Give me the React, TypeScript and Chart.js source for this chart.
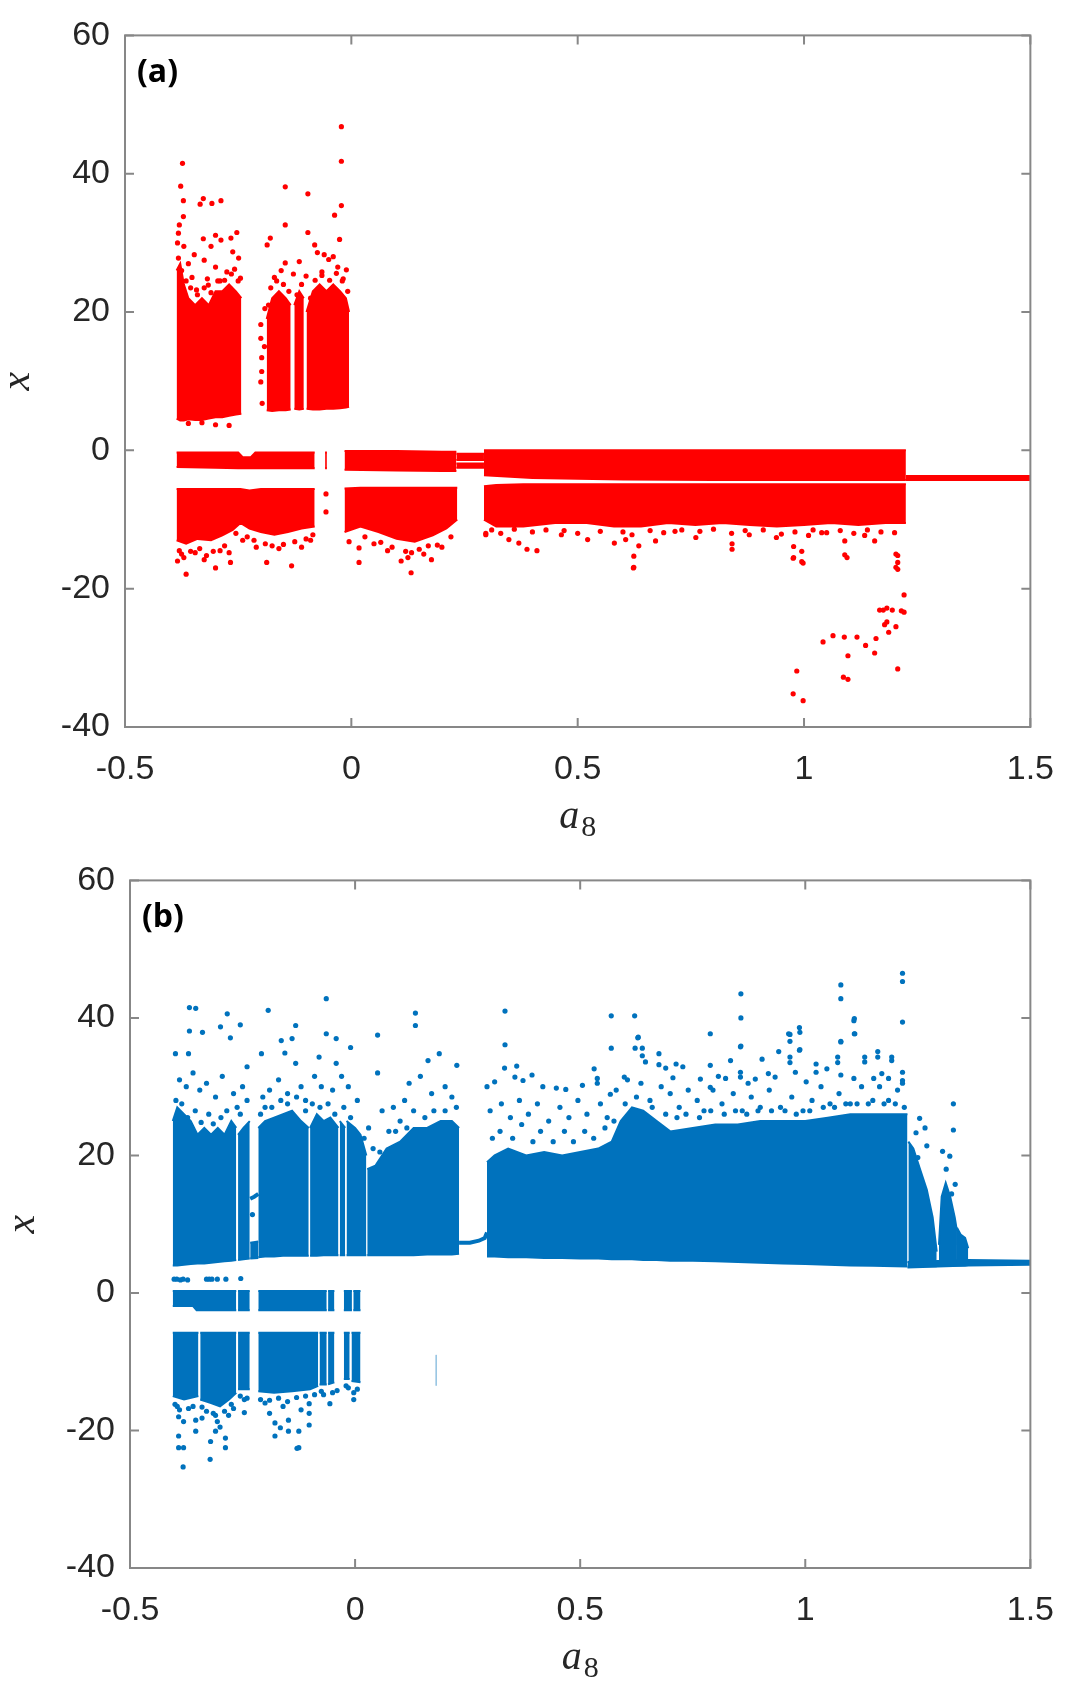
import React, { useEffect, useRef } from 'react';
import { Chart, registerables } from 'chart.js';

Chart.register(...registerables);

type Band = [number, number, number][]; // [a8, upper x, lower x]
type Pts = [number, number][]; // [a8, x]

// ---------- axes ----------
const xTicks = [-0.5, 0, 0.5, 1, 1.5];
const yTicks = [-40, -20, 0, 20, 40, 60];

// ---------- panel (a): red ----------
const redPosA: Band = [[-0.386, 26, 4.6], [-0.378, 27, 4.3], [-0.37, 24, 4.3], [-0.36, 22, 4.5], [-0.345, 21, 4.4], [-0.33, 22, 4.4], [-0.315, 21, 4.6], [-0.3, 23, 4.8], [-0.285, 23, 4.8], [-0.27, 24, 5.0], [-0.255, 23, 5.2], [-0.243, 22, 5.3]];
const redPosB1: Band = [[-0.187, 19, 5.8], [-0.175, 22, 5.7], [-0.16, 23, 5.8], [-0.145, 22, 5.8], [-0.134, 21, 5.9]];
const redPosB2: Band = [[-0.126, 21, 6.0], [-0.115, 23, 5.9], [-0.105, 22, 6.0]];
const redPosB3: Band = [[-0.099, 20, 6.0], [-0.085, 23, 5.9], [-0.07, 24, 5.9], [-0.055, 23, 6.0], [-0.04, 24, 6.0], [-0.025, 23, 6.1], [-0.012, 22, 6.2], [-0.005, 20, 6.3]];
const redZero1: Band = [[-0.386, -0.3, -2.4], [-0.3, -0.3, -2.5], [-0.25, -0.3, -2.6], [-0.24, -1.0, -2.6], [-0.222, -1.0, -2.6], [-0.212, -0.3, -2.6], [-0.15, -0.3, -2.6], [-0.081, -0.3, -2.6]];
const redZero2: Band = [[-0.058, -0.3, -2.6], [-0.054, -0.3, -2.6]];
const redZero3: Band = [[-0.015, -0.1, -2.8], [0.1, -0.1, -2.9], [0.2, -0.2, -3.0], [0.232, -0.2, -3.0]];
const redZero4: Band = [[0.232, -0.5, -1.4], [0.293, -0.5, -1.4]];
const redZero5: Band = [[0.232, -1.9, -2.5], [0.293, -1.9, -2.5]];
const redZero6: Band = [[0.293, 0.0, -3.6], [0.4, 0.0, -4.0], [0.6, 0.0, -4.2], [0.8, 0.0, -4.3], [1.0, 0.0, -4.3], [1.225, 0.0, -4.3]];
const redTail: Band = [[1.225, -3.7, -4.3], [1.5, -3.7, -4.3]];
const redNeg1: Band = [[-0.386, -5.6, -13.0], [-0.365, -5.6, -13.5], [-0.34, -5.6, -12.8], [-0.31, -5.6, -13.0], [-0.285, -5.6, -12.3], [-0.262, -5.6, -11.5], [-0.245, -5.6, -10.5], [-0.225, -5.8, -11.3], [-0.2, -5.6, -11.8], [-0.17, -5.6, -12.2], [-0.14, -5.6, -11.8], [-0.11, -5.6, -11.3], [-0.081, -5.6, -11.0]];
const redNeg2: Band = [[-0.015, -5.5, -11.8], [0.02, -5.4, -11.0], [0.06, -5.4, -11.8], [0.1, -5.4, -12.8], [0.14, -5.4, -13.2], [0.18, -5.4, -12.3], [0.21, -5.4, -11.3], [0.234, -5.4, -10.0]];
const redNeg3: Band = [[0.293, -5.2, -10.0], [0.32, -5.0, -11.0], [0.38, -4.9, -11.0], [0.45, -4.9, -10.5], [0.52, -4.9, -10.5], [0.58, -4.9, -11.0], [0.64, -4.9, -11.0], [0.7, -4.9, -10.5], [0.76, -4.9, -10.8], [0.82, -4.9, -10.5], [0.88, -4.9, -10.8], [0.94, -4.9, -11.0], [1.0, -4.9, -10.8], [1.06, -4.9, -10.5], [1.12, -4.9, -10.8], [1.18, -4.9, -10.5], [1.225, -4.9, -10.5]];

const redScatterTop: Pts = [
  [-0.373, 41.5], [-0.377, 38.2], [-0.371, 36.1], [-0.371, 33.8], [-0.327, 36.4], [-0.334, 35.6], [-0.308, 35.7], [-0.288, 36.1], [-0.38, 32.6], [-0.382, 31.4], [-0.327, 30.6], [-0.3, 31.1], [-0.288, 30.4], [-0.266, 30.7], [-0.253, 31.5], [-0.31, 29.5], [-0.347, 28.3], [-0.325, 27.5], [-0.249, 27.8], [-0.36, 27.0], [-0.3, 26.5], [-0.275, 25.8], [-0.258, 26.2], [-0.352, 25.0], [-0.318, 24.8], [-0.29, 24.5], [-0.245, 24.9], [-0.37, 29.5], [-0.384, 30.0], [-0.262, 28.7], [-0.316, 23.9], [-0.342, 23.2], [-0.33, 4.0], [-0.3, 3.7], [-0.36, 3.9], [-0.27, 3.6],
  [-0.382, 27.8], [-0.375, 26.0], [-0.365, 24.5], [-0.355, 23.5], [-0.34, 22.5], [-0.325, 23.5], [-0.31, 22.8], [-0.295, 24.5], [-0.28, 24.6], [-0.265, 25.5], [-0.25, 24.5],
  [-0.146, 38.1], [-0.146, 32.6], [-0.096, 37.1], [-0.096, 31.5], [-0.022, 46.8], [-0.022, 41.8], [-0.022, 35.4], [-0.037, 34.0], [-0.026, 30.5], [-0.179, 30.7], [-0.186, 29.7], [-0.081, 29.7], [-0.075, 28.6], [-0.06, 28.3], [-0.05, 27.6], [-0.04, 28.0], [-0.011, 26.1], [-0.146, 27.1], [-0.115, 27.3], [-0.128, 25.5], [-0.17, 25.0], [-0.155, 26.0], [-0.1, 25.2], [-0.065, 25.8], [-0.03, 26.5], [-0.018, 24.8], [-0.2, 18.2], [-0.2, 16.2], [-0.198, 13.4], [-0.198, 11.4], [-0.2, 9.9], [-0.197, 6.8], [-0.192, 15.0], [-0.191, 20.5],
  [-0.183, 21.0], [-0.178, 23.5], [-0.165, 24.5], [-0.15, 24.0], [-0.138, 23.0], [-0.12, 22.5], [-0.11, 24.0], [-0.09, 22.0], [-0.08, 24.6], [-0.065, 25.3], [-0.048, 24.6], [-0.033, 25.6], [-0.02, 24.5], [-0.008, 23.0],
];

const redScatterLow: Pts = [
  [-0.384, -16.0], [-0.365, -17.9], [-0.3, -17.0], [-0.267, -16.2], [-0.187, -16.2], [-0.132, -16.7], [0.017, -16.2], [0.132, -17.7], [0.177, -15.8], [0.133, -14.8], [-0.056, -6.3], [-0.056, -8.9], [0.017, -14.1], [0.297, -12.0], [-0.375, -15.0], [-0.345, -14.8], [-0.32, -15.2], [-0.29, -14.5], [-0.24, -13.0], [-0.21, -14.0], [-0.16, -14.2], [-0.11, -14.0], [-0.09, -13.0], [0.05, -13.5], [0.08, -14.5], [0.16, -15.0], [0.2, -14.0],
  [-0.38, -14.5], [-0.37, -15.5], [-0.355, -14.6], [-0.335, -14.2], [-0.325, -15.8], [-0.305, -14.6], [-0.28, -13.8], [-0.27, -14.8], [-0.255, -12.0], [-0.23, -12.5], [-0.215, -13.0], [-0.19, -13.5], [-0.175, -13.8], [-0.15, -13.6], [-0.125, -13.2], [-0.1, -12.8], [-0.085, -12.2], [-0.005, -13.2], [0.03, -12.5], [0.065, -13.3], [0.09, -14.0], [0.12, -14.6], [0.15, -14.3], [0.17, -13.8], [0.19, -13.7], [0.22, -12.5], [0.11, -16.0], [0.125, -15.5],
  [0.297, -12.2], [0.348, -12.9], [0.388, -14.3], [0.41, -14.5], [0.37, -13.4], [0.464, -12.2], [0.522, -12.9], [0.581, -13.4], [0.606, -12.9], [0.624, -15.3], [0.624, -16.9], [0.635, -13.8], [0.672, -13.1], [0.715, -11.7], [0.761, -12.6], [0.841, -13.5], [0.841, -14.3], [0.879, -12.2], [0.939, -12.6], [0.977, -13.9], [0.977, -15.5], [0.995, -14.6], [0.995, -16.1], [1.01, -12.3], [1.039, -11.9], [1.09, -13.1], [1.09, -15.1], [1.134, -12.3], [1.156, -13.1], [1.203, -15.0], [1.203, -16.9],
  [0.31, -11.5], [0.33, -12.0], [0.36, -11.4], [0.4, -11.8], [0.43, -11.5], [0.47, -11.6], [0.5, -12.0], [0.55, -11.7], [0.6, -11.8], [0.62, -12.2], [0.66, -11.6], [0.69, -11.9], [0.73, -11.5], [0.77, -11.7], [0.8, -11.4], [0.84, -12.0], [0.87, -11.6], [0.91, -11.5], [0.95, -12.1], [0.98, -11.8], [1.02, -11.5], [1.05, -11.9], [1.08, -11.6], [1.11, -12.0], [1.14, -11.5], [1.17, -11.8], [1.2, -11.9],
  [0.623, -17.0], [0.976, -15.6], [0.998, -16.3], [1.095, -15.5], [1.207, -15.2], [1.207, -16.2], [1.207, -17.2],
  [0.984, -31.9], [0.976, -35.2], [0.998, -36.2], [1.042, -27.7], [1.064, -26.8], [1.089, -27.0], [1.097, -29.7], [1.087, -32.8], [1.097, -33.1], [1.117, -27.0], [1.136, -28.2], [1.159, -27.2], [1.156, -29.3], [1.167, -23.1], [1.175, -23.1], [1.183, -22.8], [1.195, -23.1], [1.183, -24.8], [1.187, -26.3], [1.203, -25.5], [1.221, -23.4], [1.221, -20.9], [1.207, -31.6], [1.215, -23.2], [1.178, -25.2],
];

// ---------- panel (b): blue ----------
const bluePosA1: Band = [[-0.405, 25, 4.0], [-0.395, 27, 4.0], [-0.38, 26, 4.1], [-0.365, 25, 4.2], [-0.35, 23, 4.3], [-0.335, 24, 4.3], [-0.32, 23, 4.4], [-0.305, 24, 4.5], [-0.29, 23, 4.6], [-0.275, 25, 4.7], [-0.264, 24, 4.8]];
const bluePosA2: Band = [[-0.26, 23, 4.8], [-0.248, 24, 4.9], [-0.234, 25, 5.0]];
const blueIslandFloor: Band = [[-0.233, 7.3, 5.0], [-0.215, 7.5, 5.1]];
const blueIslandLine: Pts = [[-0.233, 13.7], [-0.224, 14.0], [-0.215, 14.4]];
const bluePosB1: Band = [[-0.215, 24, 5.2], [-0.2, 25, 5.3], [-0.18, 25.5, 5.3], [-0.16, 26, 5.4], [-0.14, 26.5, 5.4], [-0.12, 25, 5.4], [-0.103, 24, 5.4]];
const bluePosB2: Band = [[-0.1, 24, 5.4], [-0.085, 26, 5.4], [-0.07, 25, 5.5], [-0.055, 25.5, 5.5], [-0.037, 24, 5.5]];
const bluePosB3: Band = [[-0.034, 25, 5.5], [-0.022, 24, 5.5]];
const bluePosB4: Band = [[-0.019, 25, 5.5], [0.0, 24, 5.5], [0.012, 23, 5.5], [0.025, 20, 5.5]];
const bluePosB5: Band = [[0.027, 18, 5.5], [0.045, 18.5, 5.5], [0.07, 21, 5.5], [0.1, 22, 5.5], [0.13, 24, 5.5], [0.16, 24, 5.6], [0.19, 25, 5.6], [0.215, 25, 5.6], [0.231, 24, 5.7]];
const blueGapLine: Pts = [[0.231, 7.3], [0.255, 7.3], [0.275, 7.6], [0.288, 8.0], [0.293, 8.8]];
const bluePosC: Band = [[0.293, 19, 5.3], [0.31, 20, 5.3], [0.34, 21, 5.2], [0.38, 20, 5.2], [0.42, 20.5, 5.1], [0.46, 20, 5.1], [0.5, 20.5, 5.0], [0.54, 21, 5.0], [0.57, 22, 4.9], [0.59, 25, 4.9], [0.615, 27, 4.9], [0.64, 26.5, 4.8], [0.67, 25, 4.8], [0.7, 23.5, 4.7], [0.75, 24, 4.7], [0.8, 24.5, 4.6], [0.85, 24.5, 4.5], [0.9, 25, 4.4], [0.95, 25, 4.3], [1.0, 25, 4.2], [1.05, 25.5, 4.1], [1.1, 26, 4.0], [1.15, 26, 3.95], [1.2, 26, 3.9], [1.227, 26, 3.85]];
const bluePosD1: Band = [[1.229, 22, 3.85], [1.24, 21, 3.85], [1.255, 18, 3.9], [1.27, 15, 3.9], [1.283, 11, 3.9], [1.292, 6, 3.9]];
const bluePosD2: Band = [[1.297, 7, 4.0], [1.303, 14, 4.0], [1.312, 16, 4.0], [1.322, 14, 4.0], [1.332, 11, 4.0], [1.337, 9, 4.0]];
const bluePosD3: Band = [[1.337, 9.5, 4.0], [1.345, 8.5, 4.0], [1.355, 8, 4.0], [1.362, 6.5, 4.05]];
const blueTail: Band = [[1.227, 4.5, 3.7], [1.362, 4.8, 4.0], [1.5, 4.7, 4.1]];
const blueZero1: Band = [[-0.405, 0.3, -1.9], [-0.36, 0.3, -1.9], [-0.352, 0.3, -2.5], [-0.3, 0.3, -2.5], [-0.264, 0.3, -2.5]];
const blueZero2: Band = [[-0.26, 0.3, -2.5], [-0.234, 0.3, -2.5]];
const blueZero3: Band = [[-0.215, 0.3, -2.5], [-0.063, 0.3, -2.5]];
const blueZero4: Band = [[-0.06, 0.3, -2.5], [-0.046, 0.3, -2.5]];
const blueZero5: Band = [[-0.025, 0.3, -2.5], [-0.007, 0.3, -2.5]];
const blueZero6: Band = [[-0.004, 0.3, -2.5], [0.012, 0.3, -2.5]];
const blueNeg1: Band = [[-0.405, -5.8, -15.0], [-0.38, -5.8, -15.5], [-0.348, -5.8, -15.0]];
const blueNeg1b: Band = [[-0.344, -5.8, -15.5], [-0.32, -5.8, -16.0], [-0.3, -5.8, -16.5], [-0.28, -5.8, -15.5], [-0.264, -5.8, -14.5]];
const blueNeg2: Band = [[-0.26, -5.8, -14.0], [-0.234, -5.8, -14.0]];
const blueNeg3: Band = [[-0.215, -5.8, -14.3], [-0.18, -5.8, -14.5], [-0.14, -5.8, -14.3], [-0.1, -5.8, -14.0], [-0.082, -5.8, -13.5]];
const blueNeg3b: Band = [[-0.079, -5.8, -13.3], [-0.063, -5.8, -13.3]];
const blueNeg4: Band = [[-0.06, -5.8, -13.3], [-0.046, -5.8, -13.0]];
const blueNeg5: Band = [[-0.025, -5.8, -12.5], [-0.012, -5.8, -12.5]];
const blueNeg6: Band = [[-0.008, -5.8, -12.8], [0.012, -5.8, -13.0]];
const blueFaint: Pts = [[0.18, -9.0], [0.18, -13.5]];

const blueScatterLeft: Pts = [
  [-0.368, 41.5], [-0.354, 41.4], [-0.284, 40.6], [-0.193, 41.1], [-0.064, 42.8], [0.134, 40.7], [0.134, 38.9], [-0.299, 38.7], [-0.255, 39.0], [-0.368, 38.1], [-0.339, 37.9], [-0.277, 37.1], [-0.164, 36.7], [-0.14, 37.0], [-0.132, 38.9], [-0.064, 37.7], [-0.042, 37.0], [0.05, 37.5], [-0.399, 34.8], [-0.37, 34.8], [-0.208, 34.8], [-0.156, 34.9], [-0.08, 34.3], [-0.01, 35.7], [0.187, 34.8], [0.226, 33.1], [0.162, 33.8], [0.05, 32.0], [-0.042, 33.4], [-0.132, 33.4], [-0.24, 32.9],
  [-0.39, 31.0], [-0.375, 30.0], [-0.36, 32.0], [-0.345, 29.5], [-0.33, 30.5], [-0.31, 28.5], [-0.295, 31.5], [-0.27, 29.0], [-0.25, 30.0], [-0.24, 28.0], [-0.205, 28.5], [-0.19, 29.5], [-0.17, 31.0], [-0.15, 29.0], [-0.12, 30.0], [-0.11, 28.0], [-0.09, 31.5], [-0.075, 30.0], [-0.05, 29.5], [-0.03, 31.5], [-0.015, 30.0], [0.005, 28.0], [0.03, 24.0], [0.06, 26.5], [0.085, 27.0], [0.11, 28.0], [0.12, 30.5], [0.145, 31.5], [0.17, 29.0], [0.2, 30.0], [0.215, 28.5],
  [-0.398, 28.0], [-0.385, 27.5], [-0.355, 26.5], [-0.325, 26.0], [-0.285, 26.5], [-0.262, 27.0], [-0.2, 27.0], [-0.165, 28.0], [-0.13, 28.5], [-0.095, 27.5], [-0.06, 27.5], [-0.025, 27.0], [0.04, 21.0], [0.075, 23.5], [0.1, 25.0], [0.13, 26.5], [0.175, 26.5], [0.225, 27.0],
  [-0.372, 25.5], [-0.342, 24.8], [-0.315, 24.6], [-0.298, 25.5], [-0.255, 26.0], [-0.21, 26.0], [-0.185, 27.0], [-0.15, 27.5], [-0.11, 26.5], [-0.078, 27.0], [-0.045, 26.0], [-0.01, 25.5], [0.02, 22.5], [0.055, 20.5], [0.09, 23.5], [0.115, 24.0], [0.155, 25.5], [0.2, 26.5],
  [-0.402, 2.0], [-0.396, 2.0], [-0.388, 1.9], [-0.382, 2.0], [-0.372, 1.9], [-0.33, 2.0], [-0.324, 2.0], [-0.318, 2.0], [-0.306, 2.0], [-0.287, 2.0], [-0.254, 2.1], [-0.228, 11.4],
];

const blueScatterRight: Pts = [
  [0.333, 41.0], [0.333, 36.1], [0.569, 40.3], [0.621, 40.3], [0.629, 37.2], [0.569, 35.6], [0.789, 37.7], [0.857, 43.5], [0.857, 40.0], [0.857, 35.9], [0.963, 37.7], [0.987, 38.6], [0.987, 35.3], [1.079, 44.8], [1.079, 42.8], [1.079, 36.5], [1.109, 39.9], [1.109, 37.7], [1.216, 46.5], [1.216, 45.3], [1.216, 39.4], [1.329, 27.5], [1.329, 23.7],
  [0.293, 30.0], [0.31, 30.7], [0.332, 32.7], [0.359, 33.0], [0.355, 31.4], [0.373, 30.9], [0.393, 31.7], [0.417, 30.0], [0.447, 29.8], [0.468, 29.6], [0.505, 30.2], [0.531, 32.6], [0.538, 31.2], [0.538, 30.5], [0.567, 28.9], [0.598, 31.4], [0.628, 37.1], [0.622, 35.6], [0.638, 35.6], [0.638, 34.5], [0.645, 33.6], [0.675, 34.8], [0.675, 33.2], [0.69, 32.7], [0.713, 33.3], [0.728, 32.9], [0.706, 31.3], [0.789, 33.1], [0.767, 31.1], [0.789, 29.9], [0.807, 31.5], [0.823, 31.2], [0.834, 33.8], [0.856, 35.8], [0.856, 32.1], [0.856, 31.4], [0.873, 30.5], [0.889, 31.1], [0.904, 34.0], [0.918, 31.9], [0.933, 31.4], [0.941, 35.1], [0.966, 37.6], [0.966, 36.6], [0.966, 34.3], [0.966, 33.5], [0.988, 37.9], [0.988, 35.4], [0.978, 32.1], [1.002, 30.7], [1.024, 33.3], [1.024, 32.1], [1.048, 32.6], [1.079, 36.6], [1.072, 34.3], [1.072, 33.5], [1.079, 31.7], [1.108, 39.6], [1.11, 37.7], [1.108, 31.2], [1.132, 34.3], [1.132, 33.6], [1.161, 35.1], [1.161, 34.3], [1.17, 31.9], [1.192, 34.3], [1.192, 33.8], [1.216, 32.1], [1.216, 30.9], [1.216, 30.5], [1.185, 31.2], [1.152, 31.2],
  [0.3, 26.5], [0.325, 27.5], [0.345, 25.5], [0.365, 28.0], [0.385, 26.0], [0.405, 27.5], [0.43, 25.0], [0.455, 27.0], [0.475, 25.5], [0.495, 28.0], [0.515, 26.0], [0.545, 27.5], [0.56, 25.5], [0.58, 29.5], [0.605, 31.0], [0.635, 30.5], [0.655, 28.0], [0.68, 30.0], [0.7, 29.0], [0.72, 27.0], [0.74, 29.5], [0.76, 28.0], [0.775, 26.5], [0.795, 29.5], [0.815, 27.5], [0.84, 29.0], [0.86, 26.5], [0.88, 28.5], [0.9, 27.0], [0.92, 29.5], [0.945, 27.0], [0.97, 28.5], [0.995, 26.5], [1.015, 28.0], [1.035, 30.0], [1.055, 27.5], [1.075, 29.0], [1.1, 27.5], [1.125, 30.0], [1.15, 28.0], [1.165, 30.0], [1.185, 28.0], [1.205, 29.5], [1.22, 27.0],
  [0.305, 22.5], [0.322, 23.5], [0.35, 22.5], [0.37, 24.5], [0.395, 22.0], [0.412, 23.5], [0.44, 22.0], [0.465, 23.5], [0.485, 22.0], [0.51, 23.5], [0.53, 22.5], [0.555, 24.0], [0.575, 25.0], [0.6, 27.5], [0.625, 28.5], [0.66, 27.0], [0.69, 26.0], [0.715, 25.5], [0.735, 26.0], [0.765, 25.5], [0.79, 26.5], [0.82, 26.0], [0.845, 26.5], [0.87, 26.0], [0.895, 26.5], [0.925, 26.5], [0.955, 26.5], [0.98, 26.0], [1.01, 26.5], [1.04, 27.0], [1.065, 27.0], [1.09, 27.5], [1.115, 27.5], [1.14, 27.5], [1.175, 27.5], [1.2, 27.5],
  [1.254, 25.4], [1.266, 24.0], [1.246, 23.3], [1.27, 21.4], [1.25, 19.7], [1.305, 20.6], [1.321, 19.9], [1.313, 18.0], [1.333, 15.8], [1.325, 14.4],
];

const blueScatterLow: Pts = [
  [-0.392, -22.5], [-0.381, -22.5], [-0.392, -20.8], [-0.392, -18.0], [-0.381, -18.7], [-0.354, -20.1], [-0.354, -18.5], [-0.34, -18.2], [-0.321, -21.6], [-0.322, -24.2], [-0.288, -22.5], [-0.288, -21.1], [-0.31, -20.1], [-0.306, -18.7], [-0.281, -17.8], [-0.246, -15.5], [-0.246, -17.4], [-0.178, -20.8], [-0.178, -18.9], [-0.166, -19.6], [-0.148, -18.5], [-0.148, -20.1], [-0.125, -20.1], [-0.125, -22.5], [-0.102, -16.1], [-0.102, -17.5], [-0.102, -19.2], [-0.056, -16.1], [-0.003, -15.5], [-0.003, -14.5], [-0.382, -25.3], [-0.129, -22.6], [-0.3, -19.5], [-0.315, -17.5], [-0.27, -16.8], [-0.36, -16.5], [-0.395, -16.5], [-0.2, -16.0], [-0.16, -16.5], [-0.19, -17.5], [-0.12, -17.0], [-0.07, -14.8], [-0.05, -14.5], [-0.015, -13.8],
  [-0.4, -16.2], [-0.39, -17.0], [-0.37, -16.8], [-0.34, -16.6], [-0.33, -17.2], [-0.31, -17.8], [-0.29, -17.2], [-0.275, -16.2], [-0.255, -15.0], [-0.24, -15.3], [-0.21, -15.5], [-0.19, -15.6], [-0.17, -15.3], [-0.15, -15.8], [-0.13, -15.2], [-0.11, -15.0], [-0.09, -14.8], [-0.075, -14.3], [-0.04, -14.2], [-0.02, -13.5], [0.005, -14.0],
];

const RED = '#ff0000';
const BLUE = '#0072bd';

function bandSets(bands: Band[], color: string) {
  const out: any[] = [];
  for (const b of bands) {
    out.push({
      data: b.map(([a, hi]) => ({ x: a, y: hi })),
      borderColor: color, backgroundColor: color, borderWidth: 2,
      pointRadius: 0, fill: '+1', showLine: true, tension: 0,
    });
    out.push({
      data: b.map(([a, , lo]) => ({ x: a, y: lo })),
      borderColor: color, backgroundColor: color, borderWidth: 2,
      pointRadius: 0, fill: false, showLine: true, tension: 0,
    });
  }
  return out;
}

function lineSet(p: Pts, color: string, width: number) {
  return {
    data: p.map(([a, v]) => ({ x: a, y: v })),
    borderColor: color, backgroundColor: color, borderWidth: width,
    pointRadius: 0, fill: false, showLine: true, tension: 0,
  };
}

function dotSet(p: Pts, color: string) {
  return {
    data: p.map(([a, v]) => ({ x: a, y: v })),
    borderColor: color, backgroundColor: color, borderWidth: 0,
    pointRadius: 2.6, pointHoverRadius: 2.6, showLine: false, fill: false,
  };
}

const TICK_FONT = { family: '"Liberation Sans", Arial, sans-serif', size: 34 };
const TEXT = '#262626';
const FRAME = '#878787';

function makeFramePlugin(letter: string) {
  return {
    id: 'matlabFrame' + letter,
    afterDraw(chart: any) {
      const { ctx, chartArea } = chart;
      const { left, right, top, bottom } = chartArea;
      const xs = chart.scales.x;
      const ys = chart.scales.y;
      ctx.save();
      ctx.strokeStyle = FRAME;
      ctx.lineWidth = 2;
      ctx.strokeRect(left, top, right - left, bottom - top);
      const tl = 9;
      ctx.beginPath();
      for (const v of xTicks) {
        const p = xs.getPixelForValue(v);
        ctx.moveTo(p, bottom); ctx.lineTo(p, bottom - tl);
        ctx.moveTo(p, top); ctx.lineTo(p, top + tl);
      }
      for (const v of yTicks) {
        const p = ys.getPixelForValue(v);
        ctx.moveTo(left, p); ctx.lineTo(left + tl, p);
        ctx.moveTo(right, p); ctx.lineTo(right - tl, p);
      }
      ctx.stroke();

      // panel letter
      ctx.fillStyle = '#000';
      ctx.font = 'bold 32px "Open Sans", "Noto Sans", sans-serif';
      ctx.textAlign = 'left';
      ctx.textBaseline = 'middle';
      ctx.fillText(letter, left + 12, top + 37);

      // x axis title: a_8
      ctx.fillStyle = TEXT;
      const cx = (left + right) / 2;
      const base = bottom + 101;
      ctx.font = 'italic 40px "Liberation Serif", "DejaVu Serif", serif';
      const wa = ctx.measureText('a').width;
      ctx.font = '30px "Liberation Serif", "DejaVu Serif", serif';
      const w8 = ctx.measureText('8').width;
      const start = cx - (wa + w8 + 2) / 2;
      ctx.textBaseline = 'alphabetic';
      ctx.font = 'italic 40px "Liberation Serif", "DejaVu Serif", serif';
      ctx.fillText('a', start, base);
      ctx.font = '30px "Liberation Serif", "DejaVu Serif", serif';
      ctx.fillText('8', start + wa + 2, base + 8);

      // y axis title: x
      ctx.save();
      ctx.translate(left - 96, (top + bottom) / 2);
      ctx.rotate(-Math.PI / 2);
      ctx.font = 'italic 42px "Liberation Serif", "DejaVu Serif", serif';
      ctx.textAlign = 'center';
      ctx.textBaseline = 'alphabetic';
      ctx.fillText('x', 0, 0);
      ctx.restore();
      ctx.restore();
    },
  };
}

function makeConfig(datasets: any[], letter: string, axisLeft: number, axisTop: number, padRight: number, xAxisH: number) {
  return {
    type: 'line' as const,
    data: { datasets },
    options: {
      animation: false,
      responsive: false,
      maintainAspectRatio: false,
      events: [],
      layout: { padding: { left: 0, top: axisTop, right: padRight, bottom: 0 } },
      plugins: { legend: { display: false }, tooltip: { enabled: false } },
      scales: {
        x: {
          type: 'linear',
          min: -0.5, max: 1.5,
          grid: { display: false, drawTicks: false },
          border: { display: false },
          afterBuildTicks: (s: any) => { s.ticks = xTicks.map((v) => ({ value: v })); },
          ticks: { font: TICK_FONT, color: TEXT, padding: 22, maxRotation: 0, autoSkip: false, callback: (v: any) => String(v) },
          afterFit: (s: any) => { s.height = xAxisH; },
        },
        y: {
          type: 'linear',
          min: -40, max: 60,
          grid: { display: false, drawTicks: false },
          border: { display: false },
          afterBuildTicks: (s: any) => { s.ticks = yTicks.map((v) => ({ value: v })); },
          ticks: { font: TICK_FONT, color: TEXT, padding: 15, callback: (v: any) => String(v) },
          afterFit: (s: any) => { s.width = axisLeft; },
        },
      },
    },
    plugins: [makeFramePlugin(letter)],
  };
}

const redDatasets = () => [
  dotSet(redScatterTop, RED),
  dotSet(redScatterLow, RED),
  ...bandSets([redPosA, redPosB1, redPosB2, redPosB3, redZero1, redZero2, redZero3, redZero4, redZero5, redZero6, redTail, redNeg1, redNeg2, redNeg3], RED),
];

const blueDatasets = () => [
  dotSet(blueScatterLeft, BLUE),
  dotSet(blueScatterRight, BLUE),
  dotSet(blueScatterLow, BLUE),
  lineSet(blueIslandLine, BLUE, 4),
  lineSet(blueGapLine, BLUE, 4),
  lineSet(blueFaint, 'rgba(0,114,189,0.25)', 1),
  ...bandSets([bluePosA1, bluePosA2, blueIslandFloor, bluePosB1, bluePosB2, bluePosB3, bluePosB4, bluePosB5, bluePosC, bluePosD1, bluePosD2, bluePosD3, blueTail, blueZero1, blueZero2, blueZero3, blueZero4, blueZero5, blueZero6, blueNeg1, blueNeg1b, blueNeg2, blueNeg3, blueNeg3b, blueNeg4, blueNeg5, blueNeg6], BLUE),
];

const H_A = 845;
const H_B = 844;

export default function App() {
  const refA = useRef<HTMLCanvasElement>(null);
  const refB = useRef<HTMLCanvasElement>(null);

  useEffect(() => {
    const ca = new Chart(refA.current as HTMLCanvasElement, makeConfig(redDatasets(), '(a)', 125, 24, 1076 - 1041, H_A - 727) as any);
    const cb = new Chart(refB.current as HTMLCanvasElement, makeConfig(blueDatasets(), '(b)', 130, 873 - H_A, 1076 - 1042, H_A + H_B - 1568) as any);
    return () => { ca.destroy(); cb.destroy(); };
  }, []);

  return (
    <div style={{ position: 'absolute', left: 0, top: 0, width: 1076, height: 1689, background: '#fff', overflow: 'hidden' }}>
      <canvas ref={refA} width={1076} height={H_A} style={{ position: 'absolute', left: 0, top: 0, width: 1076, height: H_A }} />
      <canvas ref={refB} width={1076} height={H_B} style={{ position: 'absolute', left: 0, top: H_A, width: 1076, height: H_B }} />
    </div>
  );
}
